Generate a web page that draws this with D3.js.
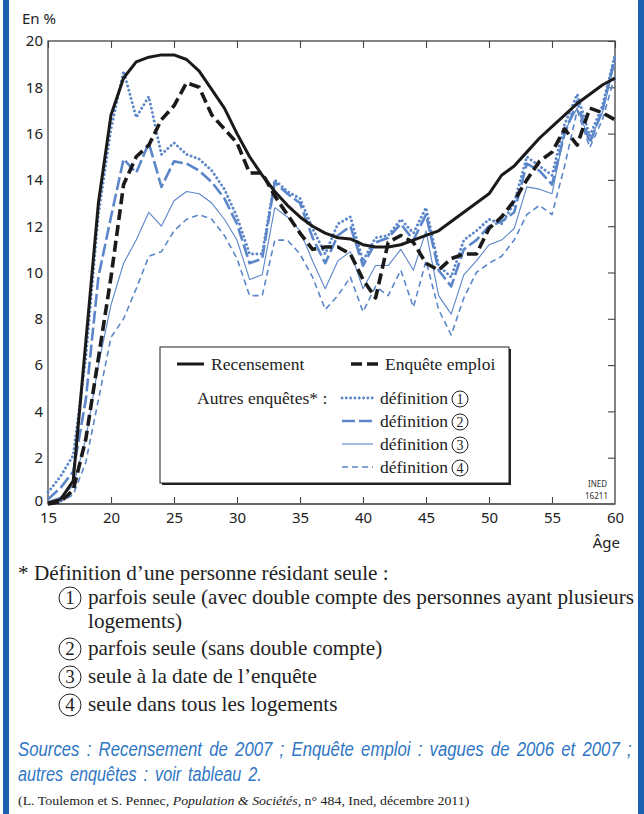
<!DOCTYPE html>
<html>
<head>
<meta charset="utf-8">
<script src="https://cdn.jsdelivr.net/npm/d3@7"></script>
<style>
  body { margin: 0; background: #fff; }
  svg { display: block; }
</style>
</head>
<body>
<script>
// ages 15..60
var ages = [15,16,17,18,19,20,21,22,23,24,25,26,27,28,29,30,31,32,33,34,35,36,37,38,39,40,
            41,42,43,44,45,46,47,48,49,50,51,52,53,54,55,56,57,58,59,60];

var recensement = [0.05,0.2,1.0,7.0,13.0,16.8,18.4,19.1,19.3,19.4,19.4,19.2,18.7,17.9,17.1,16.0,
                   15.0,14.2,13.5,12.9,12.4,12.0,11.7,11.5,11.45,11.2,11.1,11.1,11.2,11.4,11.6,
                   11.8,12.2,12.6,13.0,13.4,14.2,14.6,15.2,15.8,16.3,16.8,17.3,17.7,18.1,18.4];
var enqueteEmploi = [0,0.1,0.6,2.8,6.3,9.8,13.8,15.0,15.5,16.6,17.2,18.2,18.0,16.8,16.2,15.6,
                     14.3,14.3,13.3,12.5,11.7,11.0,11.1,11.1,10.8,9.7,8.9,11.3,11.6,11.3,10.4,
                     10.1,10.6,10.8,10.8,11.9,12.4,13.1,14.0,14.8,15.2,16.2,15.5,17.1,16.9,16.6];
var def1 = [0.5,1.2,2.1,6.3,12.5,16.2,18.7,16.7,17.6,15.1,15.6,15.1,14.9,14.4,13.6,12.4,
            10.8,10.8,14.0,13.5,13.2,11.9,10.8,12.1,12.4,10.5,11.5,11.6,12.3,11.7,12.8,
            10.3,9.8,11.4,11.8,12.3,12.1,13.0,15.0,14.6,14.2,16.4,17.7,15.9,17.2,19.4];
var def2 = [0.2,0.7,1.4,4.5,9.8,12.4,14.9,14.3,15.6,13.7,14.8,14.7,14.4,13.9,13.2,12.1,
            10.4,10.6,13.9,13.4,13.0,11.5,10.4,11.6,12.0,10.3,11.3,11.5,12.1,11.4,12.5,
            10.1,9.4,11.0,11.4,12.0,12.2,12.6,14.7,14.4,13.8,16.0,17.4,15.6,17.0,19.3];
var def3 = [0.1,0.3,0.8,2.8,6.0,8.6,10.4,11.4,12.6,12.0,13.1,13.5,13.4,13.0,12.3,11.4,
            9.7,9.9,12.8,12.4,11.8,10.5,9.3,10.5,10.9,9.3,10.3,10.3,11.0,10.1,11.8,
            9.0,8.2,9.9,10.5,11.2,11.4,11.9,13.7,13.6,13.4,16.1,17.1,15.7,16.9,19.1];
var def4 = [0.0,0.1,0.4,1.8,4.5,7.2,8.0,9.3,10.7,10.9,11.8,12.3,12.5,12.3,11.6,10.6,
            9.0,9.0,11.4,11.4,10.8,9.8,8.4,9.0,9.8,8.3,9.4,9.0,10.1,8.5,10.5,
            8.4,7.3,8.9,10.0,10.4,10.7,11.4,12.5,12.9,12.5,14.6,17.0,15.4,16.6,18.5];

var xTicks = [15,20,25,30,35,40,45,50,55,60];
var yTicks = [0,2,4,6,8,10,12,14,16,18,20];

var notes = [
  ["1", "parfois seule (avec double compte des personnes ayant plusieurs", "logements)"],
  ["2", "parfois seule (sans double compte)"],
  ["3", "seule à la date de l’enquête"],
  ["4", "seule dans tous les logements"]
];

var W = 644, H = 814;
var blue = "#5b86c9";
var ink = "#1a1a1a";
var sans = "'Noto Sans', sans-serif";
var serif = "'Liberation Serif', serif";

var svg = d3.select("body").append("svg")
    .attr("width", W)
    .attr("height", H);

// blue side rules
svg.append("rect").attr("x", 3).attr("y", 0).attr("width", 6).attr("height", H).attr("fill", "#1c61b0");
svg.append("rect").attr("x", 638).attr("y", 0).attr("width", 6).attr("height", H).attr("fill", "#1c61b0");

var x = d3.scaleLinear().domain([15, 60]).range([48, 615]);
var y = d3.scaleLinear().domain([0, 20]).range([504, 41]);

// frame
svg.append("rect")
    .attr("x", x(15)).attr("y", y(20))
    .attr("width", x(60) - x(15)).attr("height", y(0) - y(20))
    .attr("fill", "none").attr("stroke", "#333").attr("stroke-width", 1.2);

// axes (ticks inward on top, right, bottom)
var bottomAxis = svg.append("g")
    .attr("transform", "translate(0," + y(0) + ")")
    .call(d3.axisBottom(x).tickValues(xTicks).tickSizeInner(-7).tickSizeOuter(0).tickPadding(8));
var topAxis = svg.append("g")
    .attr("transform", "translate(0," + y(20) + ")")
    .call(d3.axisTop(x).tickValues(xTicks).tickSizeInner(-7).tickSizeOuter(0).tickFormat(""));
var rightAxis = svg.append("g")
    .attr("transform", "translate(" + x(60) + ",0)")
    .call(d3.axisRight(y).tickValues(yTicks).tickSizeInner(-7).tickSizeOuter(0).tickFormat(""));
var leftAxis = svg.append("g")
    .attr("transform", "translate(" + x(15) + ",0)")
    .call(d3.axisLeft(y).tickValues(yTicks).tickSize(0).tickPadding(5));

[bottomAxis, topAxis, rightAxis, leftAxis].forEach(function(a) {
    a.select(".domain").remove();
    a.selectAll("line").attr("stroke", "#444").attr("stroke-width", 1.1);
    a.selectAll("text").attr("font-family", sans).attr("font-size", 15).attr("fill", "#222");
});
bottomAxis.select(".tick:first-of-type line").remove();
bottomAxis.select(".tick:last-of-type line").remove();
leftAxis.select(".tick:first-of-type text").attr("dy", "0.1em");
svg.append("line")
    .attr("x1", x(15)).attr("x2", x(60)).attr("y1", y(0)).attr("y2", y(0))
    .attr("stroke", "#666").attr("stroke-width", 2);

svg.append("text").attr("x", 22).attr("y", 24).text("En %")
    .attr("font-family", sans).attr("font-size", 15).attr("fill", "#222");
svg.append("text").attr("x", 620).attr("y", 548).attr("text-anchor", "end").text("Âge")
    .attr("font-family", sans).attr("font-size", 15).attr("fill", "#222");

svg.append("text").attr("x", 607).attr("y", 487).attr("text-anchor", "end").text("INED")
    .attr("font-family", sans).attr("font-size", 9).attr("fill", "#333")
    .attr("textLength", 19).attr("lengthAdjust", "spacingAndGlyphs");
svg.append("text").attr("x", 608).attr("y", 499).attr("text-anchor", "end").text("16211")
    .attr("font-family", sans).attr("font-size", 9).attr("fill", "#333")
    .attr("textLength", 23).attr("lengthAdjust", "spacingAndGlyphs");

// series (drawn back to front)
var series = [
  {name: "def4", values: def4, color: blue, width: 1.6, dash: "6,4", cap: "butt"},
  {name: "def3", values: def3, color: blue, width: 1.1, dash: null, cap: "butt"},
  {name: "def2", values: def2, color: blue, width: 2.6, dash: "13,4", cap: "butt"},
  {name: "def1", values: def1, color: blue, width: 2.9, dash: "0.01,4.3", cap: "round"},
  {name: "enquete", values: enqueteEmploi, color: ink, width: 3.6, dash: "11,5", cap: "butt"},
  {name: "recensement", values: recensement, color: ink, width: 3, dash: null, cap: "butt"}
];

var line = d3.line()
    .x(function(d) { return x(d[0]); })
    .y(function(d) { return y(d[1]); });

svg.append("g").selectAll("path")
    .data(series)
    .enter()
    .append("path")
        .attr("d", function(s) { return line(ages.map(function(a, i) { return [a, s.values[i]]; })); })
        .attr("fill", "none")
        .attr("stroke", function(s) { return s.color; })
        .attr("stroke-width", function(s) { return s.width; })
        .attr("stroke-dasharray", function(s) { return s.dash; })
        .attr("stroke-linecap", function(s) { return s.cap; })
        .attr("stroke-linejoin", "round");

// legend
var byName = {};
series.forEach(function(s) { byName[s.name] = s; });

var lg = svg.append("g");
lg.append("rect").attr("x", 162).attr("y", 349).attr("width", 349).attr("height", 136).attr("fill", "#222");
lg.append("rect").attr("x", 160).attr("y", 347).attr("width", 349).attr("height", 136)
    .attr("fill", "#fff").attr("stroke", "#222").attr("stroke-width", 1);

function legendLine(s, x1, x2, yy) {
    lg.append("line")
        .attr("x1", x1).attr("x2", x2).attr("y1", yy).attr("y2", yy)
        .attr("stroke", s.color)
        .attr("stroke-width", s.width)
        .attr("stroke-dasharray", s.dash)
        .attr("stroke-linecap", s.cap);
}
function legendText(t, xx, yy) {
    return lg.append("text").attr("x", xx).attr("y", yy).text(t)
        .attr("font-family", serif).attr("font-size", 17.5).attr("fill", "#222");
}
function circled(g, n, cx, cy, r, fs) {
    g.append("circle").attr("cx", cx).attr("cy", cy).attr("r", r)
        .attr("fill", "none").attr("stroke", "#222").attr("stroke-width", 1);
    g.append("text").attr("x", cx).attr("y", cy + fs * 0.34).attr("text-anchor", "middle").text(n)
        .attr("font-family", serif).attr("font-size", fs).attr("fill", "#222");
}

legendLine(byName.recensement, 177, 204, 364);
legendText("Recensement", 211, 370);
legendLine(byName.enquete, 351, 379, 364);
legendText("Enquête emploi", 385, 370);
legendText("Autres enquêtes* :", 197, 404);

var defRows = ["def1", "def2", "def3", "def4"];
defRows.forEach(function(name, i) {
    var yy = 398 + i * 23;
    legendLine(byName[name], 342, 373, yy);
    legendText("définition", 380, yy + 6);
    circled(lg, String(i + 1), 460, yy + 1, 8, 14);
});

// footnote
var fn = svg.append("g");
var fs = 21.2;
fn.append("text").attr("x", 18).attr("y", 580)
    .attr("font-family", serif).attr("font-size", fs).attr("fill", "#222")
    .text("* Définition d’une personne résidant seule :");

var rowY = [604, 655, 683, 711];
notes.forEach(function(n, i) {
    circled(fn, n[0], 70, rowY[i] - 6, 11, 19);
    fn.append("text").attr("x", 88).attr("y", rowY[i])
        .attr("font-family", serif).attr("font-size", fs).attr("fill", "#222")
        .text(n[1]);
    if (n[2]) {
        fn.append("text").attr("x", 88).attr("y", rowY[i] + 24)
            .attr("font-family", serif).attr("font-size", fs).attr("fill", "#222")
            .text(n[2]);
    }
});

// squeeze a text horizontally to a given width (condensed faces are not installed)
function fitText(sel, x0, y0, w) {
    var nat = sel.node().getComputedTextLength();
    sel.attr("transform", "translate(" + x0 + "," + y0 + ") scale(" + (w / nat) + ",1)");
    return sel;
}

var src1 = fn.append("text")
    .attr("font-family", "'Liberation Sans', sans-serif").attr("font-style", "italic")
    .attr("font-size", 19.5).attr("fill", "#2f76c4").attr("word-spacing", 3)
    .text("Sources : Recensement de 2007 ; Enquête emploi : vagues de 2006 et 2007 ;");
fitText(src1, 18, 756, 614);
var src2 = fn.append("text")
    .attr("font-family", "'Liberation Sans', sans-serif").attr("font-style", "italic")
    .attr("font-size", 19.5).attr("fill", "#2f76c4").attr("word-spacing", 3)
    .text("autres enquêtes : voir tableau 2.");
fitText(src2, 18, 781, 244);

var cite = fn.append("text")
    .attr("font-family", serif).attr("font-size", 13.5).attr("fill", "#222");
cite.append("tspan").text("(L. Toulemon et S. Pennec, ");
cite.append("tspan").attr("font-style", "italic").text("Population & Sociétés");
cite.append("tspan").text(", n° 484, Ined, décembre 2011)");
fitText(cite, 18, 805, 452);
</script>
</body>
</html>
